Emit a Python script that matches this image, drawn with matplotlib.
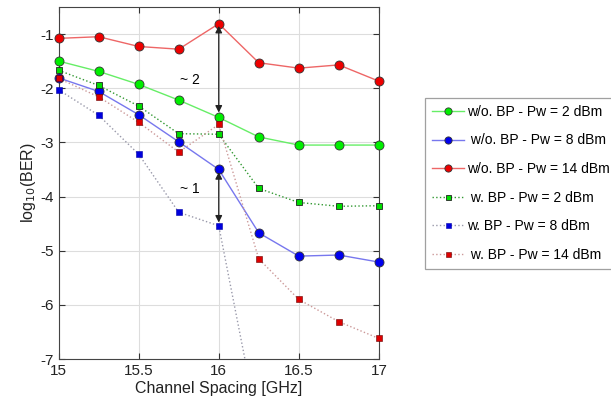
import matplotlib
matplotlib.use("Agg")
import matplotlib.pyplot as plt
from matplotlib.lines import Line2D
import numpy as np

plt.rcParams['font.family'] = ['Liberation Sans', 'DejaVu Sans']

x = [15, 15.25, 15.5, 15.75, 16, 16.25, 16.5, 16.75, 17]

wo_2 = [-1.50, -1.69, -1.93, -2.22, -2.54, -2.90, -3.05, -3.05, -3.05]
wo_8 = [-1.81, -2.06, -2.49, -2.99, -3.50, -4.67, -5.10, -5.08, -5.21]
wo_14 = [-1.08, -1.05, -1.23, -1.28, -0.81, -1.53, -1.63, -1.57, -1.87]
w_2 = [-1.67, -1.95, -2.33, -2.84, -2.85, -3.85, -4.11, -4.18, -4.17]
w_8 = [-2.03, -2.50, -3.22, -4.29, -4.54, -8.30]
w_14 = [-1.82, -2.16, -2.63, -3.18, -2.67, -5.15, -5.90, -6.31, -6.62]

labels = ["w/o. BP - Pw = 2 dBm", " w/o. BP - Pw = 8 dBm", "w/o. BP - Pw = 14 dBm",
          " w. BP - Pw = 2 dBm", "w. BP - Pw = 8 dBm", " w. BP - Pw = 14 dBm"]

xticks = [15, 15.5, 16, 16.5, 17]
yticks = [-7, -6, -5, -4, -3, -2, -1]

fig = plt.figure(figsize=(6.11, 4.08), dpi=100)
ax = fig.add_axes([0.096, 0.12, 0.524, 0.863])

styles = [
    dict(ls='-', color='#66ee66', marker='o', ms=6.5, mfc='#00ee00', mec='#333333', mew=0.6),
    dict(ls='-', color='#7777ee', marker='o', ms=6.5, mfc='#0000ee', mec='#333333', mew=0.6),
    dict(ls='-', color='#ee6666', marker='o', ms=6.5, mfc='#ee0000', mec='#333333', mew=0.6),
    dict(ls=':', color='#339933', marker='s', ms=4.5, mfc='#00dd00', mec='#222222', mew=0.6),
    dict(ls=':', color='#9999aa', marker='s', ms=4.5, mfc='#0000dd', mec='#0000aa', mew=0.4),
    dict(ls=':', color='#cc9999', marker='s', ms=4.5, mfc='#dd0000', mec='#660000', mew=0.4),
]
series = [wo_2, wo_8, wo_14, w_2, w_8, w_14]

for ys, st in zip(series, styles):
    xs = x[:len(ys)]
    ax.plot(xs, ys, linestyle=st['ls'], color=st['color'], lw=1.0, zorder=3)
    vis = [(xx, yy) for xx, yy in zip(xs, ys) if yy >= -7]
    ax.plot([v[0] for v in vis], [v[1] for v in vis], linestyle='none',
            marker=st['marker'], ms=st['ms'], mfc=st['mfc'], mec=st['mec'],
            mew=st['mew'], zorder=4, clip_on=False)

handles = [Line2D([], [], linestyle=st['ls'], color=st['color'], lw=1.0,
                  marker=st['marker'], ms=st['ms'] * 0.8, mfc=st['mfc'],
                  mec=st['mec'], mew=st['mew']) for st in styles]

ax.annotate('', xy=(16, -0.85), xytext=(16, -2.45),
            arrowprops=dict(arrowstyle='<|-|>', color='#222222', lw=0.9,
                            mutation_scale=10, shrinkA=0, shrinkB=0), zorder=5)
ax.annotate('', xy=(16, -3.55), xytext=(16, -4.48),
            arrowprops=dict(arrowstyle='<|-|>', color='#222222', lw=0.9,
                            mutation_scale=10, shrinkA=0, shrinkB=0), zorder=5)
ax.text(15.82, -1.85, '~ 2', fontsize=10, ha='center', va='center')
ax.text(15.82, -3.87, '~ 1', fontsize=10, ha='center', va='center')

ax.set_xlim(15, 17)
ax.set_ylim(-7, -0.5)
ax.set_xticks(xticks)
ax.set_xticklabels(['15', '15.5', '16', '16.5', '17'])
ax.set_yticks(yticks)
ax.set_yticklabels([str(v) for v in yticks])
ax.tick_params(direction='in', labelsize=11, length=4, top=True, right=True,
               colors='#333333', labelcolor='#222222')
ax.grid(True, color='#dddddd', lw=0.8)
for s in ax.spines.values():
    s.set_color('#444444')
    s.set_linewidth(0.8)

ax.set_xlabel('Channel Spacing [GHz]', fontsize=11.5, labelpad=2, color='#222222')
ax.set_ylabel('log$_{10}$(BER)', fontsize=11.5, labelpad=2, color='#222222')

leg = fig.legend(handles, labels, loc='upper left', bbox_to_anchor=(0.696, 0.76),
                 fontsize=10, frameon=True, fancybox=False, edgecolor='#888888',
                 handlelength=2.3, handletextpad=0.2, labelspacing=1.05,
                 borderpad=0.5, borderaxespad=0)
leg.get_frame().set_linewidth(0.9)

fig.savefig('out.png', dpi=100)
